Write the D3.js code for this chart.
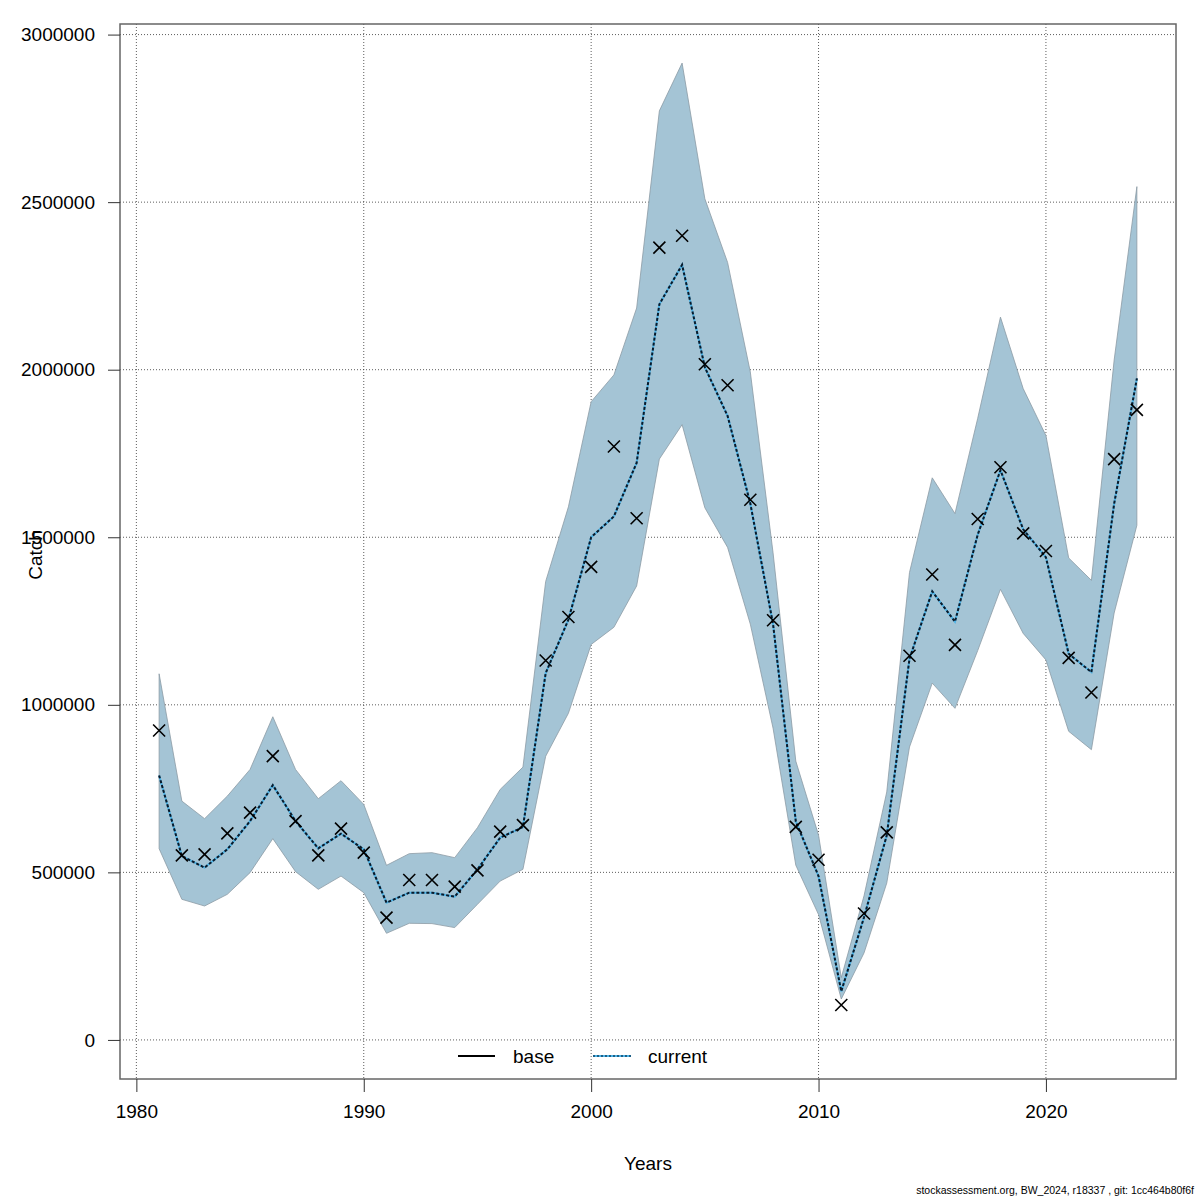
<!DOCTYPE html>
<html>
<head>
<meta charset="utf-8">
<script src="https://cdn.jsdelivr.net/npm/d3@7"></script>
<style>
  body { margin: 0; background: #fff; }
  svg { display: block; font-family: "Liberation Sans", Arial, sans-serif; }
</style>
</head>
<body>
<svg id="chart" width="1200" height="1200"></svg>
<script>
const years = d3.range(1981, 2025);

// upper / lower edge of the confidence band
const upper = [1092600, 712700, 660200, 727600, 807200, 964400, 807200, 719800, 773500, 702900,
  521000, 555800, 558800, 543900, 633400, 747600, 814100, 1368300, 1590800, 1904500,
  1984400, 2184000, 2772400, 2915000, 2510000, 2320100, 1993100, 1453400, 832000, 611200,
  186000, 430000, 740000, 1394900, 1677400, 1570700, 1855000, 2156900, 1943600, 1803600,
  1438300, 1371400, 2028800, 2546300];
const lower = [570700, 419600, 399600, 434500, 499200, 600600, 502200, 449400, 489000, 439500,
  318200, 348000, 347100, 335200, 404700, 474100, 509000, 846600, 974800, 1180100,
  1231400, 1354600, 1733400, 1836100, 1588000, 1469800, 1240800, 930100, 521300, 374100,
  122000, 259600, 468000, 874000, 1064800, 989500, 1161800, 1344700, 1213100, 1134000,
  920900, 866100, 1274000, 1535700];
// current run estimate
const current = [789300, 548700, 514100, 568700, 653100, 760400, 653100, 571600, 615500, 568700,
  409700, 439500, 439500, 427600, 509000, 603600, 635200, 1094500, 1254300, 1500000,
  1562300, 1722000, 2195400, 2312900, 2007200, 1862200, 1600600, 1240800, 652100, 488600,
  145000, 365900, 610400, 1137600, 1338500, 1248100, 1507900, 1700000, 1523600, 1440000,
  1152200, 1097400, 1600000, 1974000];
// observed catch (crosses)
const observed = [923500, 550800, 553800, 616400, 678100, 846900, 653100, 550800, 630400, 558800,
  365000, 477100, 477100, 457400, 506100, 621500, 641100, 1132200, 1262200, 1411700,
  1771000, 1556600, 2364200, 2399600, 2016300, 1953600, 1612000, 1252300, 635800, 537600,
  104300, 377400, 619400, 1146400, 1388700, 1179000, 1554400, 1708800, 1511400, 1459000,
  1140000, 1036600, 1733000, 1880300];

const xTicks = [1980, 1990, 2000, 2010, 2020];
const yTicks = [0, 500000, 1000000, 1500000, 2000000, 2500000, 3000000];
const legendLabels = ["base", "current"];
const footer = "stockassessment.org, BW_2024, r18337 , git: 1cc464b80f6f";

const svg = d3.select("#chart");
const plotL = 120, plotR = 1176, plotT = 24, plotB = 1079;

// R style 4% padding
const xPad = (d3.max(years) - d3.min(years)) * 0.04;
const x = d3.scaleLinear()
  .domain([d3.min(years) - xPad, d3.max(years) + xPad])
  .range([plotL, plotR]);
const yMax = d3.max(upper);
const yPad = yMax * 0.04;
const y = d3.scaleLinear()
  .domain([-yPad, yMax + yPad])
  .range([plotB, plotT]);

const rows = years.map((yr, i) => ({ yr, lo: lower[i], hi: upper[i], cur: current[i], obs: observed[i] }));

// grid
const grid = svg.append("g").attr("stroke", "#333").attr("stroke-width", 0.8).attr("stroke-dasharray", "1,2");
grid.selectAll(".gx").data(xTicks).enter().append("line")
  .attr("x1", d => x(d)).attr("x2", d => x(d)).attr("y1", plotT).attr("y2", plotB);
grid.selectAll(".gy").data(yTicks).enter().append("line")
  .attr("x1", plotL).attr("x2", plotR).attr("y1", d => y(d)).attr("y2", d => y(d));

// confidence band
svg.append("path")
  .datum(rows)
  .attr("fill", "#a4c4d5")
  .attr("stroke", "#8c9ba4")
  .attr("stroke-width", 0.8)
  .attr("d", d3.area().x(d => x(d.yr)).y0(d => y(d.lo)).y1(d => y(d.hi)));

// current line: blue with dark dots on top
const curLine = d3.line().x(d => x(d.yr)).y(d => y(d.cur));
svg.append("path").datum(rows)
  .attr("fill", "none").attr("stroke", "#4db3e6").attr("stroke-width", 2)
  .attr("d", curLine);
svg.append("path").datum(rows)
  .attr("fill", "none").attr("stroke", "#0a1a2a").attr("stroke-width", 2)
  .attr("stroke-dasharray", "3,2")
  .attr("d", curLine);

// observed crosses
const s = 6;
const cross = svg.append("g").attr("stroke", "#000").attr("stroke-width", 1.6);
cross.selectAll("path").data(rows).enter().append("path")
  .attr("d", d => {
    const cx = x(d.yr), cy = y(d.obs);
    return `M${cx - s},${cy - s}L${cx + s},${cy + s}M${cx - s},${cy + s}L${cx + s},${cy - s}`;
  });

// box
svg.append("rect")
  .attr("x", plotL).attr("y", plotT).attr("width", plotR - plotL).attr("height", plotB - plotT)
  .attr("fill", "none").attr("stroke", "#666").attr("stroke-width", 1.5);

// axes
const yAxis = d3.axisLeft(y).tickValues(yTicks).tickSize(12).tickPadding(13).tickFormat(d3.format("d"));
svg.append("g").attr("transform", `translate(${plotL},0)`).call(yAxis)
  .call(g => g.select(".domain").remove())
  .call(g => g.selectAll("line").attr("stroke", "#333"))
  .call(g => g.selectAll("text").attr("font-size", 19).attr("fill", "#000")
    .attr("font-family", "Liberation Sans, Arial, sans-serif"));

const xAxis = d3.axisBottom(x).tickValues(xTicks).tickSize(13).tickPadding(13).tickFormat(d3.format("d"));
svg.append("g").attr("transform", `translate(0,${plotB})`).call(xAxis)
  .call(g => g.select(".domain").remove())
  .call(g => g.selectAll("line").attr("stroke", "#333"))
  .call(g => g.selectAll("text").attr("font-size", 19).attr("fill", "#000")
    .attr("font-family", "Liberation Sans, Arial, sans-serif"));

// axis titles
svg.append("text").attr("x", 648).attr("y", 1170).attr("text-anchor", "middle")
  .attr("font-size", 19).text("Years");
svg.append("text").attr("transform", "translate(42,555) rotate(-90)").attr("text-anchor", "middle")
  .attr("font-size", 19).text("Catch");

// legend
const leg = svg.append("g");
leg.append("line").attr("x1", 458).attr("x2", 495).attr("y1", 1056).attr("y2", 1056)
  .attr("stroke", "#000").attr("stroke-width", 2.2);
leg.append("text").attr("x", 513).attr("y", 1063).attr("font-size", 19).text(legendLabels[0]);
leg.append("line").attr("x1", 593).attr("x2", 631).attr("y1", 1056).attr("y2", 1056)
  .attr("stroke", "#4db3e6").attr("stroke-width", 2);
leg.append("line").attr("x1", 593).attr("x2", 631).attr("y1", 1056).attr("y2", 1056)
  .attr("stroke", "#1d5f86").attr("stroke-width", 2).attr("stroke-dasharray", "2,2");
leg.append("text").attr("x", 648).attr("y", 1063).attr("font-size", 19).text(legendLabels[1]);

// footer
svg.append("text").attr("x", 1194).attr("y", 1194).attr("text-anchor", "end")
  .attr("font-size", 10.5).attr("fill", "#000").text(footer);
</script>
</body>
</html>
